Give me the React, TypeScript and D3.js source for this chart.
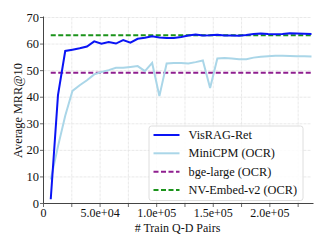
import { useEffect, useRef } from 'react';
import * as d3 from 'd3';

// Training curve: retrieval quality vs number of training query-document pairs
const trainPairs = [
  6400, 12800, 19200, 25600, 32000, 38400, 44800, 51200, 57600, 64000,
  70400, 76800, 83200, 89600, 96000, 102400, 108800, 115200, 121600, 128000,
  134400, 140800, 147200, 153600, 160000, 166400, 172800, 179200, 185600, 192000,
  198400, 204800, 211200, 217600, 224000, 230400, 236800,
];

const visragRet = [
  1.6, 40.8, 57.4, 57.9, 58.4, 59.1, 61.0, 60.1, 60.8, 60.2,
  61.5, 60.5, 62.0, 62.4, 62.9, 62.5, 62.3, 62.3, 62.7, 63.2,
  63.6, 63.2, 63.3, 63.5, 63.2, 63.2, 63.1, 63.4, 63.8, 64.0,
  63.8, 63.7, 63.8, 64.1, 64.0, 63.9, 63.8,
];

const miniCpmOcr = [
  9.0, 21.5, 33.0, 42.4, 44.5, 46.4, 48.6, 49.5, 50.2, 51.1,
  51.1, 51.4, 51.7, 49.8, 52.9, 40.4, 52.7, 52.9, 52.9, 52.7,
  53.2, 53.8, 43.5, 54.6, 54.8, 54.6, 54.3, 54.3, 54.9, 55.2,
  55.4, 55.6, 55.6, 55.5, 55.4, 55.4, 55.3,
];

const bgeLargeOcr = 49.2;
const nvEmbedOcr = 63.3;

const yTicks = [0, 10, 20, 30, 40, 50, 60, 70];
const xMinorTicks = [0, 25000, 50000, 75000, 100000, 125000, 150000, 175000, 200000, 225000];
const xLabels = ['0', '5.0e+04', '1.0e+05', '1.5e+05', '2.0e+05'];
const xLabelValues = [0, 50000, 100000, 150000, 200000];

const legendItems = [
  { label: 'VisRAG-Ret', color: '#0a14f5', dash: null },
  { label: 'MiniCPM (OCR)', color: '#aad6e8', dash: null },
  { label: 'bge-large (OCR)', color: '#8f1f8f', dash: '5,2.5' },
  { label: 'NV-Embed-v2 (OCR)', color: '#1b931b', dash: '5,2.5' },
];

const W = 327;
const H = 246;
const FONT = "'Liberation Serif', 'DejaVu Serif', serif";

const App = () => {
  const svgRef = useRef<SVGSVGElement | null>(null);

  useEffect(() => {
    const svg = d3.select(svgRef.current);
    svg.selectAll('*').remove();

    const left = 43.5, right = 311.5, top = 17.5, bottom = 203.5;

    const x = d3.scaleLinear().domain([0, d3.max(trainPairs) as number]).range([left, right]);
    const y = d3.scaleLinear().domain([0, 70]).range([bottom, top]);

    // grid
    const grid = svg.append('g');
    xMinorTicks.slice(1).forEach(t => {
      grid.append('line')
        .attr('x1', x(t)).attr('x2', x(t))
        .attr('y1', top).attr('y2', bottom)
        .attr('stroke', '#e3e3e3').attr('stroke-width', 0.8)
        .attr('stroke-dasharray', '3,1');
    });
    yTicks.slice(1).forEach(t => {
      grid.append('line')
        .attr('x1', left).attr('x2', right)
        .attr('y1', y(t)).attr('y2', y(t))
        .attr('stroke', '#e3e3e3').attr('stroke-width', 0.8)
        .attr('stroke-dasharray', '3,1');
    });

    // reference lines
    svg.append('line')
      .attr('x1', x(trainPairs[0])).attr('x2', right)
      .attr('y1', y(bgeLargeOcr)).attr('y2', y(bgeLargeOcr))
      .attr('stroke', legendItems[2].color).attr('stroke-width', 2)
      .attr('stroke-dasharray', legendItems[2].dash);
    svg.append('line')
      .attr('x1', x(trainPairs[0])).attr('x2', right)
      .attr('y1', y(nvEmbedOcr)).attr('y2', y(nvEmbedOcr))
      .attr('stroke', legendItems[3].color).attr('stroke-width', 2)
      .attr('stroke-dasharray', legendItems[3].dash);

    const line = d3.line<number>()
      .x((_, i) => x(trainPairs[i]))
      .y(d => y(d));

    svg.append('path')
      .attr('d', line(miniCpmOcr))
      .attr('fill', 'none')
      .attr('stroke', legendItems[1].color)
      .attr('stroke-width', 2);

    svg.append('path')
      .attr('d', line(visragRet))
      .attr('fill', 'none')
      .attr('stroke', legendItems[0].color)
      .attr('stroke-width', 2);

    // spines
    svg.append('line')
      .attr('x1', left).attr('x2', left).attr('y1', top - 1).attr('y2', bottom)
      .attr('stroke', '#444').attr('stroke-width', 1);
    svg.append('line')
      .attr('x1', left).attr('x2', right + 2).attr('y1', bottom).attr('y2', bottom)
      .attr('stroke', '#444').attr('stroke-width', 1);

    // y ticks
    yTicks.forEach(t => {
      svg.append('line')
        .attr('x1', left - 3.5).attr('x2', left)
        .attr('y1', y(t)).attr('y2', y(t))
        .attr('stroke', '#444').attr('stroke-width', 0.8);
      svg.append('text')
        .attr('x', left - 4.5).attr('y', y(t))
        .attr('text-anchor', 'end').attr('dominant-baseline', 'central')
        .style('font-family', FONT).style('font-size', '12.5px')
        .attr('fill', '#111')
        .text(t);
    });

    // x ticks
    xMinorTicks.forEach(t => {
      svg.append('line')
        .attr('x1', x(t)).attr('x2', x(t))
        .attr('y1', bottom).attr('y2', bottom + 3.5)
        .attr('stroke', '#444').attr('stroke-width', 0.8);
    });
    xLabels.forEach((lbl, i) => {
      svg.append('text')
        .attr('x', x(xLabelValues[i])).attr('y', 216.5)
        .attr('text-anchor', 'middle')
        .style('font-family', FONT).style('font-size', '12px')
        .attr('fill', '#111')
        .text(lbl);
    });

    // axis titles
    svg.append('text')
      .attr('x', (left + right) / 2).attr('y', 231.5)
      .attr('text-anchor', 'middle')
      .style('font-family', FONT).style('font-size', '12px')
      .attr('fill', '#111')
      .text('# Train Q-D Pairs');
    svg.append('text')
      .attr('transform', `translate(18,${(top + bottom) / 2}) rotate(-90)`)
      .attr('text-anchor', 'middle').attr('dominant-baseline', 'central')
      .style('font-family', FONT).style('font-size', '12.3px')
      .attr('fill', '#111')
      .text('Average MRR@10');

    // legend
    const lg = svg.append('g');
    lg.append('rect')
      .attr('x', 149).attr('y', 126).attr('width', 154).attr('height', 74.5)
      .attr('rx', 2.5)
      .attr('fill', 'rgba(255,255,255,0.85)')
      .attr('stroke', '#d5d5d5').attr('stroke-width', 0.8);
    const rows = [135, 153.3, 171.7, 190];
    legendItems.forEach((item, i) => {
      lg.append('line')
        .attr('x1', 153.5).attr('x2', 179.5)
        .attr('y1', rows[i]).attr('y2', rows[i])
        .attr('stroke', item.color).attr('stroke-width', 2)
        .attr('stroke-dasharray', item.dash);
      lg.append('text')
        .attr('x', 188.5).attr('y', rows[i])
        .attr('dominant-baseline', 'central')
        .style('font-family', FONT).style('font-size', '12.3px')
        .attr('fill', '#111')
        .text(item.label);
    });
  }, []);

  return (
    <svg
      ref={svgRef}
      width={W}
      height={H}
      style={{ position: 'absolute', left: 0, top: 0, background: '#fff' }}
    />
  );
};

export default App;
